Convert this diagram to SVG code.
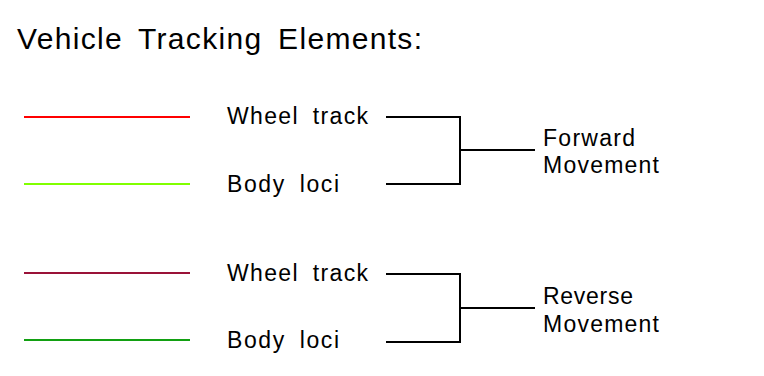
<svg xmlns="http://www.w3.org/2000/svg" width="764" height="376" viewBox="0 0 764 376">
<style>
text{font-family:"Liberation Sans","DejaVu Sans",sans-serif;fill:#000;word-spacing:6px}
.t{font-size:30px}
.l{font-size:23px}
.k{fill:none;stroke:#000;stroke-width:2}
.s{stroke-width:2}
</style>
<rect width="764" height="376" fill="#fff"/>
<g id="title"><text class="t" x="17" y="49" textLength="405" lengthAdjust="spacing">Vehicle Tracking Elements:</text></g>
<g id="legend-wheel-forward">
<line class="s" x1="24" y1="117" x2="190" y2="117" stroke="#ff0000"/>
<text class="l" x="227" y="124" textLength="141" lengthAdjust="spacing">Wheel track</text>
</g>
<g id="legend-body-forward">
<line class="s" x1="24" y1="184" x2="190" y2="184" stroke="#80ff00"/>
<text class="l" x="227" y="192" textLength="112" lengthAdjust="spacing">Body loci</text>
</g>
<g id="legend-wheel-reverse">
<line class="s" x1="24" y1="273" x2="190" y2="273" stroke="#9a1238"/>
<text class="l" x="227" y="281" textLength="141" lengthAdjust="spacing">Wheel track</text>
</g>
<g id="legend-body-reverse">
<line class="s" x1="24" y1="340" x2="190" y2="340" stroke="#12a012"/>
<text class="l" x="227" y="348" textLength="112" lengthAdjust="spacing">Body loci</text>
</g>
<g id="forward-movement">
<text class="l" x="543" y="146" textLength="92" lengthAdjust="spacing">Forward</text>
<text class="l" x="543" y="173" textLength="116" lengthAdjust="spacing">Movement</text>
</g>
<g id="reverse-movement">
<text class="l" x="543" y="304" textLength="90" lengthAdjust="spacing">Reverse</text>
<text class="l" x="543" y="332" textLength="116" lengthAdjust="spacing">Movement</text>
</g>
<g id="connectors">
<path class="k" d="M386 117H460V184H386M460 150H535"/>
<path class="k" d="M386 274H460V342H386M460 308H535"/>
</g>
</svg>
